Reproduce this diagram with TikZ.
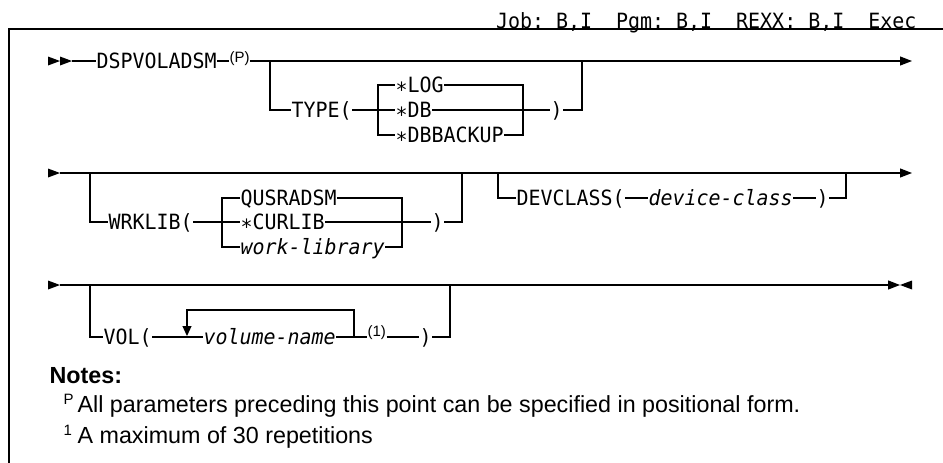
\documentclass[tikz,border=0pt]{standalone}
\usepackage{fontspec}
\setmainfont{Liberation Sans}
\newfontfamily\synfont{DejaVu Sans Mono}[FakeStretch=0.95]
\usetikzlibrary{arrows.meta}
\frenchspacing

\newcommand{\lstar}{\raisebox{-0.22em}{*}}

\begin{document}
\begin{tikzpicture}[x=1pt,y=-1pt,line width=1.2pt,
  tip/.tip={Triangle[length=12pt,width=9pt]},
  kw/.style={font=\synfont\fontsize{21}{24}\selectfont,inner sep=0pt,anchor=west,text height=15.3pt,text depth=0pt},
  var/.style={kw,font=\synfont\itshape\fontsize{21}{24}\selectfont},
  sup/.style={font=\fontsize{15}{17}\selectfont,inner sep=0pt,anchor=base west},
  note/.style={font=\fontsize{23.3}{28}\selectfont,inner sep=0pt,anchor=base west}]
\useasboundingbox (0,0) rectangle (943,463);

% draw frame and header
\draw (943,29) -- (9,29) -- (9,463);
\node[kw,anchor=base east] (hdr) at (917,28) {Job: B,I\ \ Pgm: B,I\ \ REXX: B,I\ \ Exec};

% first row
\fill (48,56.5) -- (60,61) -- (48,65.5) -- cycle;
\fill (60,56.5) -- (72,61) -- (60,65.5) -- cycle;
\coordinate (start1) at (72,61);
\coordinate (end1) at (912,61);
\node[kw] (dsp) at (96,61) {DSPVOLADSM};
\node[sup] (pmark) at (229,62) {(P)};
\draw (start1) -- (dsp.west);
\draw (dsp.east) -- (pmark.west |- dsp.east);
\draw[-tip] (pmark.east |- dsp.east) -- (end1);

\coordinate (b1) at (270,61);
\coordinate (b2) at (582,61);
\node[kw] (type) at (291,110) {TYPE(};
\node[kw] (log) at (395,85) {\lstar LOG};
\node[kw] (db) at (395,110) {\lstar DB};
\node[kw] (dbb) at (395,135) {\lstar DBBACKUP};
\node[kw] (rp1) at (550,110) {)};
\coordinate (tl) at (378,85);
\coordinate (tr) at (523,85);
\draw (b1) |- (type.west);
\draw (type.east) -- (db.west);
\draw (log.west) -- (tl) |- (dbb.west);
\draw (log.east) -- (tr) |- (dbb.east);
\draw (db.east) -- (rp1.west);
\draw (rp1.east) -| (b2);

% second row
\fill (48,168.5) -- (60,173) -- (48,177.5) -- cycle;
\coordinate (start2) at (60,173);
\coordinate (end2) at (912,173);
\draw[-tip] (start2) -- (end2);

\coordinate (w0) at (90,173);
\coordinate (w1) at (462,173);
\node[kw] (wrk) at (108,222) {WRKLIB(};
\node[kw] (qus) at (240,198) {QUSRADSM};
\node[kw] (cur) at (240,222) {\lstar CURLIB};
\node[var] (wlib) at (240,247) {work-library};
\node[kw] (rp2) at (431,222) {)};
\coordinate (wl) at (222,198);
\coordinate (wr) at (402,198);
\draw (w0) |- (wrk.west);
\draw (wrk.east) -- (cur.west);
\draw (qus.west) -- (wl) |- (wlib.west);
\draw (qus.east) -- (wr) |- (wlib.east);
\draw (cur.east) -- (rp2.west);
\draw (rp2.east) -| (w1);

\coordinate (d0) at (498,173);
\coordinate (d1) at (846,173);
\node[kw] (dev) at (516,198) {DEVCLASS(};
\node[var] (dcls) at (648,198) {device-class};
\node[kw] (rp3) at (816,198) {)};
\draw (d0) |- (dev.west);
\draw (dev.east) -- (dcls.west);
\draw (dcls.east) -- (rp3.west);
\draw (rp3.east) -| (d1);

% third row
\fill (48,280.5) -- (60,285) -- (48,289.5) -- cycle;
\coordinate (start3) at (60,285);
\coordinate (end3) at (900,285);
\draw[-tip] (start3) -- (end3);
\fill (912,280.5) -- (900,285) -- (912,289.5) -- cycle;

\coordinate (v0) at (90,285);
\coordinate (v1) at (450,285);
\node[kw] (vol) at (103,337) {VOL(};
\node[var] (vname) at (203,337) {volume-name};
\node[sup] (rep) at (367,336) {(1)};
\node[kw] (rp4) at (419,337) {)};
\coordinate (la) at (187,336);
\coordinate (lb) at (354,337);
\draw (v0) |- (vol.west);
\draw (vol.east) -- (vname.west);
\draw[-{Triangle[length=10pt,width=9pt]}] (lb) -- (354,310) -| (la);
\draw (vname.east) -- (rep.west |- vname.east);
\draw (rep.east |- vname.east) -- (rp4.west);
\draw (rp4.east) -| (v1);

% notes
\node[note,font=\bfseries\fontsize{23.3}{28}\selectfont] (notes) at (49,383) {Notes:};
\node[sup] (np) at (63,404) {P};
\node[note] (n1) at (77,412) {All parameters preceding this point can be specified in positional form.};
\node[sup] (n1m) at (63,435) {1};
\node[note] (n2) at (77,443) {A maximum of 30 repetitions};
\end{tikzpicture}
\end{document}
